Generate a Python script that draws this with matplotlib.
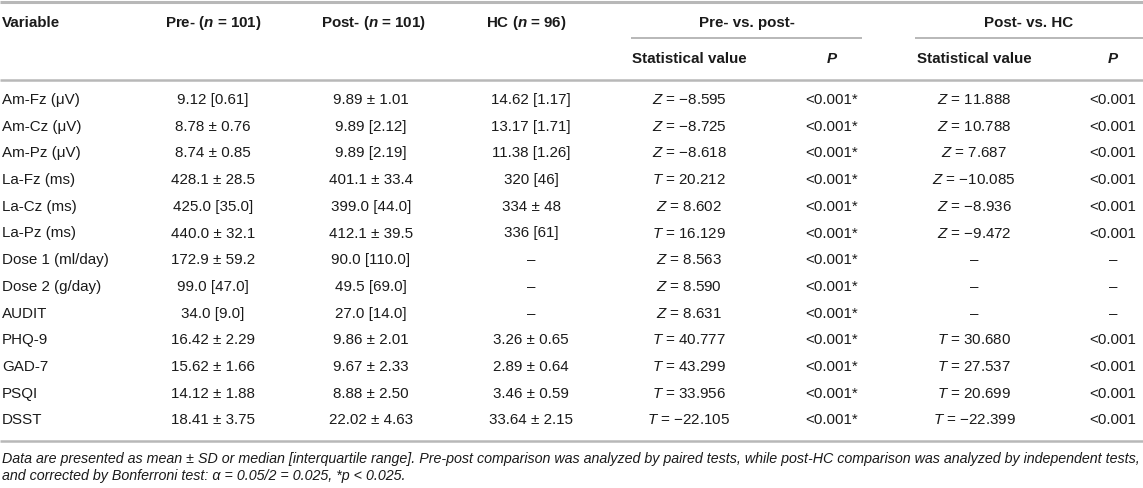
import matplotlib
matplotlib.use('Agg')
import matplotlib.pyplot as plt

plt.rcParams['font.family'] = ['Liberation Sans', 'DejaVu Sans']
plt.rcParams['mathtext.fontset'] = 'custom'
plt.rcParams['mathtext.rm'] = 'Liberation Sans'
plt.rcParams['mathtext.it'] = 'Liberation Sans:italic'
plt.rcParams['mathtext.bf'] = 'Liberation Sans:bold'
plt.rcParams['mathtext.bfit'] = 'Liberation Sans:italic:bold'

#table data
variables = ['Am-Fz (\u03bcV)', 'Am-Cz (\u03bcV)', 'Am-Pz (\u03bcV)', 'La-Fz (ms)', 'La-Cz (ms)',
             'La-Pz (ms)', 'Dose 1 (ml/day)', 'Dose 2 (g/day)', 'AUDIT', 'PHQ-9', 'GAD-7',
             'PSQI', 'DSST']
pre = ['9.12 [0.61]', '8.78 \u00b1 0.76', '8.74 \u00b1 0.85', '428.1 \u00b1 28.5', '425.0 [35.0]',
       '440.0 \u00b1 32.1', '172.9 \u00b1 59.2', '99.0 [47.0]', '34.0 [9.0]', '16.42 \u00b1 2.29',
       '15.62 \u00b1 1.66', '14.12 \u00b1 1.88', '18.41 \u00b1 3.75']
post = ['9.89 \u00b1 1.01', '9.89 [2.12]', '9.89 [2.19]', '401.1 \u00b1 33.4', '399.0 [44.0]',
        '412.1 \u00b1 39.5', '90.0 [110.0]', '49.5 [69.0]', '27.0 [14.0]', '9.86 \u00b1 2.01',
        '9.67 \u00b1 2.33', '8.88 \u00b1 2.50', '22.02 \u00b1 4.63']
hc = ['14.62 [1.17]', '13.17 [1.71]', '11.38 [1.26]', '320 [46]', '334 \u00b1 48', '336 [61]',
      None, None, None, '3.26 \u00b1 0.65', '2.89 \u00b1 0.64', '3.46 \u00b1 0.59', '33.64 \u00b1 2.15']
pp_test = ['Z', 'Z', 'Z', 'T', 'Z', 'T', 'Z', 'Z', 'Z', 'T', 'T', 'T', 'T']
pp_stat = [-8.595, -8.725, -8.618, 20.212, 8.602, 16.129, 8.563, 8.590, 8.631,
           40.777, 43.299, 33.956, -22.105]
pp_p = ['<0.001*'] * 13
ph_test = ['Z', 'Z', 'Z', 'Z', 'Z', 'Z', None, None, None, 'T', 'T', 'T', 'T']
ph_stat = [11.888, 10.788, 7.687, -10.085, -8.936, -9.472, None, None, None,
           30.680, 27.537, 20.699, -22.399]
ph_p = ['<0.001'] * 6 + [None] * 3 + ['<0.001'] * 4

note1 = ('Data are presented as mean \u00b1 SD or median [interquartile range]. Pre-post comparison '
         'was analyzed by paired tests, while post-HC comparison was analyzed by independent tests,')
note2 = 'and corrected by Bonferroni test: \u03b1 = 0.05/2 = 0.025, *p < 0.025.'

DASH = '\u2013'


def fmt_stat(letter, val):
    if letter is None:
        return DASH
    s = f'{val:.3f}'.replace('-', '\u2212')
    return f'${letter}$ = {s}'


fig = plt.figure(figsize=(11.43, 4.89), dpi=100)
ax = fig.add_axes([0, 0, 1, 1])
ax.set_xlim(0, 1143)
ax.set_ylim(489, 0)
ax.axis('off')

txt = '#1a1a1a'
rule = '#b8b8b8'
fs = 10.9

#column centres
cols = [213, 371, 531, 689, 832, 974, 1113]

#rules
ax.plot([0, 1143], [3, 3], color=rule, lw=2.2, solid_capstyle='butt')
ax.plot([631, 862], [39, 39], color=rule, lw=1.4, solid_capstyle='butt')
ax.plot([915, 1143], [39, 39], color=rule, lw=1.4, solid_capstyle='butt')
ax.plot([0, 1143], [81, 81], color=rule, lw=1.8, solid_capstyle='butt')
ax.plot([0, 1143], [442, 442], color=rule, lw=1.8, solid_capstyle='butt')

#header
hy1, hy2 = 23, 59
ax.text(2, hy1, 'Variable', fontsize=fs, fontweight='bold', color=txt, va='center')
ax.text(cols[0], hy1, r'Pre- ($\mathbfit{n}$ = 101)', fontsize=fs, fontweight='bold', color=txt,
        ha='center', va='center')
ax.text(cols[1] + 3, hy1, r'Post- ($\mathbfit{n}$ = 101)', fontsize=fs, fontweight='bold', color=txt,
        ha='center', va='center')
ax.text(cols[2] - 5, hy1, r'HC ($\mathbfit{n}$ = 96)', fontsize=fs, fontweight='bold', color=txt,
        ha='center', va='center')
ax.text((631 + 862) / 2, hy1, 'Pre- vs. post-', fontsize=fs, fontweight='bold', color=txt,
        ha='center', va='center')
ax.text((915 + 1143) / 2, hy1, 'Post- vs. HC', fontsize=fs, fontweight='bold', color=txt,
        ha='center', va='center')
for c, lab in zip([cols[3], cols[4], cols[5], cols[6]],
                  ['Statistical value', r'$\mathbfit{P}$', 'Statistical value', r'$\mathbfit{P}$']):
    ax.text(c, hy2, lab, fontsize=fs, fontweight='bold', color=txt, ha='center', va='center')

#body rows
y0, dy = 100, 26.7
for i, var in enumerate(variables):
    y = y0 + i * dy
    ax.text(2, y, var, fontsize=fs, color=txt, va='center')
    cells = [pre[i], post[i], hc[i] if hc[i] else DASH,
             fmt_stat(pp_test[i], pp_stat[i]), pp_p[i],
             fmt_stat(ph_test[i], ph_stat[i]), ph_p[i] if ph_p[i] else DASH]
    for c, s in zip(cols, cells):
        ax.text(c, y, s, fontsize=fs, color=txt, ha='center', va='center')

#footnote
ax.text(2, 459, note1, fontsize=10.25, style='italic', color=txt, va='center')
ax.text(2, 476, note2, fontsize=10.25, style='italic', color=txt, va='center')

fig.savefig('out.png', dpi=100)
